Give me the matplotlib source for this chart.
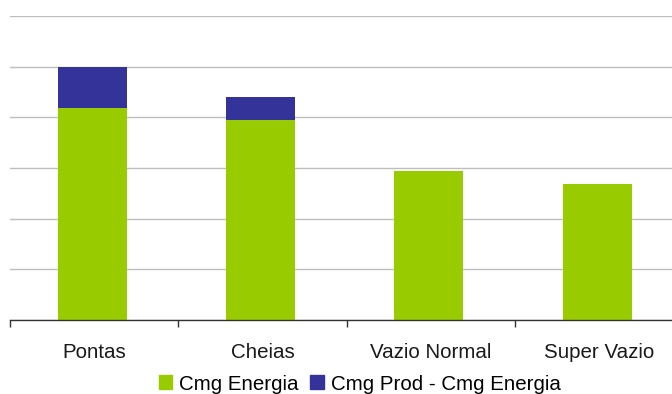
import matplotlib
matplotlib.use("Agg")
import matplotlib.pyplot as plt
from matplotlib.patches import Patch
import numpy as np

plt.rcParams['font.family'] = ['Liberation Sans', 'DejaVu Sans']

categories = ["Pontas", "Cheias", "Vazio Normal", "Super Vazio"]
cmg_energia = [4.18, 3.95, 2.94, 2.68]
cmg_prod_diff = [0.82, 0.45, 0.0, 0.0]

green = "#99CC00"
blue = "#333399"

fig = plt.figure(figsize=(6.72, 3.94), dpi=100)
# axis runs off the right edge like the original (cropped chart)
ax = fig.add_axes([10 / 672, 74 / 394, 673 / 672, 304 / 394])

x = np.arange(len(categories))
xb = x - 0.01  # bars sit a hair left of the category centre
ax.bar(xb, cmg_energia, width=0.41, color=green, zorder=2)
ax.bar(xb, cmg_prod_diff, width=0.41, bottom=cmg_energia, color=blue, zorder=2)

ax.set_xlim(-0.5, 3.5)
ax.set_ylim(0, 6)
ax.set_yticks(np.arange(0, 7, 1))
ax.yaxis.grid(True, color="#BEBEBE", linewidth=1.0, zorder=0)
ax.tick_params(axis='y', left=False, labelleft=False)

ax.set_xticks(np.arange(-0.5, 4, 1))
ax.set_xticklabels([])
ax.set_xticks(x, minor=True)
ax.set_xticklabels(categories, minor=True, fontsize=14.8, color="#1a1a1a")
ax.tick_params(axis='x', which='major', length=5, width=1, color="#333333", direction='out')
ax.tick_params(axis='x', which='minor', length=0, pad=16.5)

for side in ["top", "right", "left"]:
    ax.spines[side].set_visible(False)
ax.spines["bottom"].set_color("#333333")
ax.spines["bottom"].set_linewidth(1)
ax.spines["bottom"].set_zorder(3)

handles = [Patch(color=green, label="Cmg Energia"),
           Patch(color=blue, label="Cmg Prod - Cmg Energia")]
fig.legend(handles=handles, loc="center", bbox_to_anchor=(359.5 / 672, 1 - 384 / 394),
           ncol=2, frameon=False, fontsize=14.8, handlelength=0.68, handleheight=0.68,
           handletextpad=0.3, columnspacing=0.6, borderpad=0, borderaxespad=0)

fig.savefig("out.png", dpi=100)
